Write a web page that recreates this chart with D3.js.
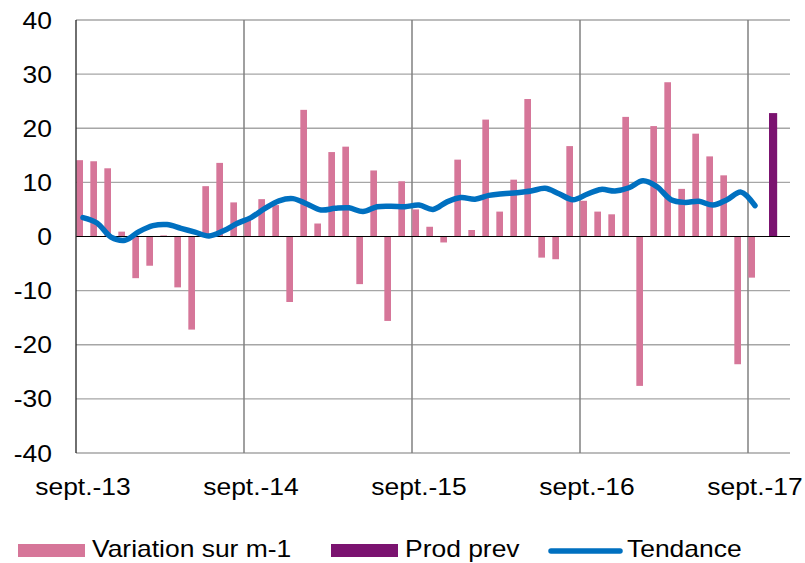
<!DOCTYPE html>
<html>
<head>
<meta charset="utf-8">
<script src="https://cdn.jsdelivr.net/npm/d3@7"></script>
<style>
  body { margin: 0; background: #fff; }
  svg { display: block; }
  text { font-family: "Liberation Sans", Arial, sans-serif; fill: #000; }
</style>
</head>
<body>
<div id="chart"></div>
<script>
// months (one category per month, last ones are forecast / empty)
var months = [
  "sept.-13","oct.-13","nov.-13","déc.-13","janv.-14","févr.-14","mars-14","avr.-14","mai-14","juin-14","juil.-14","août-14",
  "sept.-14","oct.-14","nov.-14","déc.-14","janv.-15","févr.-15","mars-15","avr.-15","mai-15","juin-15","juil.-15","août-15",
  "sept.-15","oct.-15","nov.-15","déc.-15","janv.-16","févr.-16","mars-16","avr.-16","mai-16","juin-16","juil.-16","août-16",
  "sept.-16","oct.-16","nov.-16","déc.-16","janv.-17","févr.-17","mars-17","avr.-17","mai-17","juin-17","juil.-17","août-17",
  "sept.-17","oct.-17","nov.-17"
];
var tickLabels = ["sept.-13","sept.-14","sept.-15","sept.-16","sept.-17"];
var yTicks = [-40,-30,-20,-10,0,10,20,30,40];

// Variation sur m-1 (sept.-13 .. sept.-17)
var variation = [
  14.1, 13.9, 12.6, 0.9, -7.7, -5.4, 0.2, -9.4, -17.2, 9.3, 13.6, 6.3,
  3.2, 6.9, 5.8, -12.1, 23.4, 2.4, 15.6, 16.6, -8.8, 12.2, -15.6, 10.2,
  5.0, 1.8, -1.1, 14.2, 1.2, 21.6, 4.6, 10.5, 25.4, -3.9, -4.2, 16.7,
  6.6, 4.6, 4.1, 22.1, -27.6, 20.4, 28.5, 8.8, 19.0, 14.8, 11.3, -23.6,
  -7.6
];
// Prod prev (forecast)
var prodPrevMonths = ["oct.-17"];
var prodPrev = [22.8];
// Tendance (sept.-13 .. sept.-17)
var tendance = [
  3.5, 2.5, -0.1, -0.7, 0.9, 2.0, 2.2, 1.5, 0.8, 0.1, 1.0, 2.4,
  3.5, 5.2, 6.6, 7.0, 6.0, 4.9, 5.2, 5.3, 4.6, 5.5, 5.6, 5.5,
  5.8, 5.0, 6.4, 7.2, 6.9, 7.6, 7.9, 8.1, 8.4, 8.9, 7.9, 6.8,
  7.8, 8.7, 8.4, 9.0, 10.3, 9.2, 6.8, 6.3, 6.5, 5.8, 6.8, 8.2,
  5.7
];

var W = 805, H = 563;
var margin = {top: 20, right: 15, bottom: 110, left: 76};
var STRETCH = "scale(1.15,1)";

var svg = d3.select("#chart").append("svg")
  .attr("width", W)
  .attr("height", H);

var x = d3.scaleBand()
  .domain(months)
  .range([margin.left, W - margin.right])
  .padding(0);

var xSeries = d3.scaleBand()
  .domain(["var", "prod"])
  .range([0, x.bandwidth()])
  .paddingOuter(0.05);

var y = d3.scaleLinear()
  .domain([-40, 40])
  .range([H - margin.bottom, margin.top]);

// horizontal gridlines
svg.append("g")
  .selectAll("line")
  .data(yTicks.filter(d => d !== 0))
  .enter()
  .append("line")
  .attr("x1", margin.left)
  .attr("x2", W - margin.right)
  .attr("y1", d => y(d))
  .attr("y2", d => y(d))
  .attr("stroke", "#a6a6a6")
  .attr("stroke-width", 1.3);

// vertical gridlines at each september
svg.append("g")
  .selectAll("line")
  .data(tickLabels.slice(1))
  .enter()
  .append("line")
  .attr("x1", d => x(d))
  .attr("x2", d => x(d))
  .attr("y1", y(40))
  .attr("y2", y(-40))
  .attr("stroke", "#808080")
  .attr("stroke-width", 1.5);

// bars : variation
svg.append("g")
  .selectAll("rect")
  .data(variation)
  .enter()
  .append("rect")
  .attr("x", (d, i) => x(months[i]) + xSeries("var"))
  .attr("width", xSeries.bandwidth())
  .attr("y", d => y(Math.max(0, d)))
  .attr("height", d => Math.abs(y(d) - y(0)))
  .attr("fill", "#d67699");

// bars : prod prev
svg.append("g")
  .selectAll("rect")
  .data(prodPrev)
  .enter()
  .append("rect")
  .attr("x", (d, i) => x(prodPrevMonths[i]) + xSeries("prod"))
  .attr("width", xSeries.bandwidth() + 1.5)
  .attr("y", d => y(Math.max(0, d)))
  .attr("height", d => Math.abs(y(d) - y(0)))
  .attr("fill", "#7b1370");

// zero line
svg.append("line")
  .attr("x1", margin.left)
  .attr("x2", W - margin.right)
  .attr("y1", y(0))
  .attr("y2", y(0))
  .attr("stroke", "#000")
  .attr("stroke-width", 1);

// left axis line
svg.append("line")
  .attr("x1", margin.left)
  .attr("x2", margin.left)
  .attr("y1", y(40))
  .attr("y2", y(-40))
  .attr("stroke", "#222")
  .attr("stroke-width", 1.3);

// tendance line
svg.append("path")
  .datum(tendance)
  .attr("fill", "none")
  .attr("stroke", "#0070c0")
  .attr("stroke-width", 5.5)
  .attr("stroke-linecap", "round")
  .attr("stroke-linejoin", "round")
  .attr("d", d3.line()
    .x((d, i) => x(months[i]) + x.bandwidth() / 2)
    .y(d => y(d))
    .curve(d3.curveCatmullRom));

// y axis labels (plain hyphen for negatives, as in the original)
var yAxis = svg.append("g")
  .attr("transform", `translate(${margin.left},0)`)
  .call(d3.axisLeft(y).tickValues(yTicks).tickSize(0).tickFormat(d => String(d)));
yAxis.select(".domain").remove();
yAxis.selectAll("text")
  .attr("x", 0)
  .attr("dy", "0.35em")
  .attr("font-size", 23)
  .attr("font-family", "Liberation Sans, Arial, sans-serif")
  .attr("transform", "translate(-24,0) " + STRETCH);

// x axis labels
var xAxis = svg.append("g")
  .attr("transform", `translate(0,${y(-40)})`)
  .call(d3.axisBottom(x).tickValues(tickLabels).tickSize(0));
xAxis.select(".domain").remove();
xAxis.selectAll("text")
  .attr("y", 0)
  .attr("dy", 0)
  .attr("font-size", 23)
  .attr("font-family", "Liberation Sans, Arial, sans-serif")
  .attr("transform", "translate(0,42) " + STRETCH);

// legend
var legend = svg.append("g").attr("transform", "translate(0,550)");
legend.append("rect").attr("x", 18).attr("y", -6).attr("width", 67).attr("height", 13).attr("fill", "#d67699");
legend.append("text").attr("transform", "translate(92,7) " + STRETCH).attr("font-size", 23).text("Variation sur m-1");
legend.append("rect").attr("x", 331).attr("y", -6).attr("width", 67).attr("height", 13).attr("fill", "#7b1370");
legend.append("text").attr("transform", "translate(405,7) " + STRETCH).attr("font-size", 23).text("Prod prev");
legend.append("line").attr("x1", 551).attr("x2", 620).attr("y1", 1).attr("y2", 1)
  .attr("stroke", "#0070c0").attr("stroke-width", 5.5).attr("stroke-linecap", "round");
legend.append("text").attr("transform", "translate(627,7) " + STRETCH).attr("font-size", 23).text("Tendance");
</script>
</body>
</html>
